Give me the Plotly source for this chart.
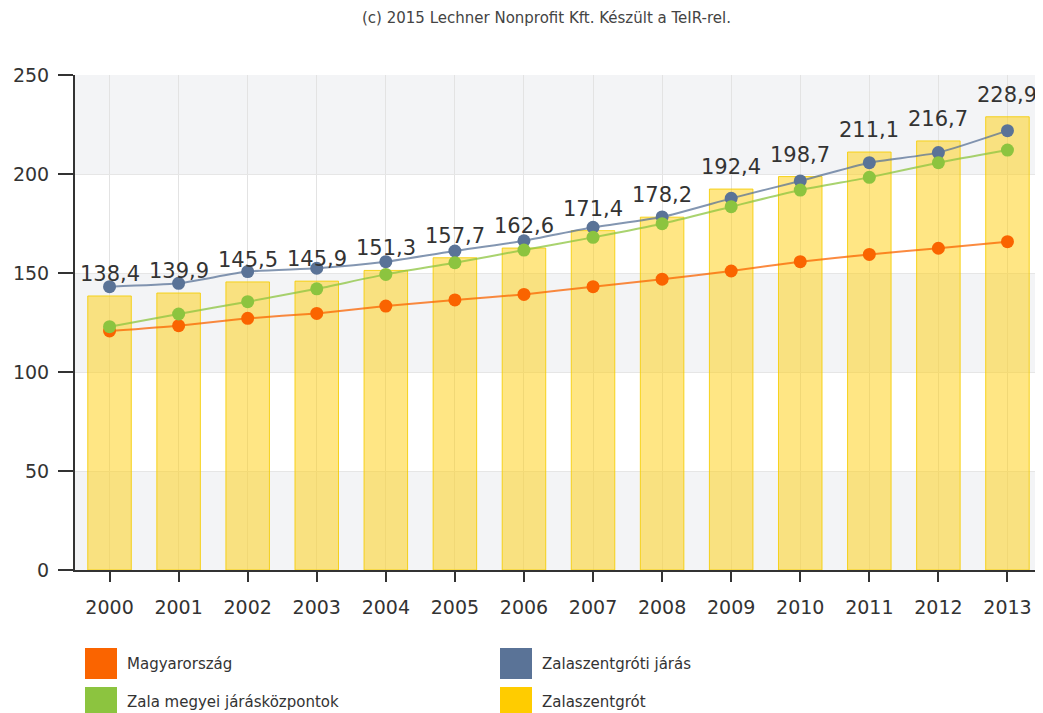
import plotly.graph_objects as go

# ---- data ----
years = list(range(2000, 2014))
zalaszentgrot = [138.4, 139.9, 145.5, 145.9, 151.3, 157.7, 162.6, 171.4, 178.2, 192.4, 198.7, 211.1, 216.7, 228.9]
zalaszentgroti_jaras = [143.1, 144.8, 150.7, 152.4, 155.7, 161.1, 166.3, 173.1, 178.3, 187.7, 196.5, 205.7, 210.8, 221.9]
zala_kozpontok = [122.9, 129.3, 135.5, 142.0, 149.3, 155.2, 161.6, 168.0, 174.9, 183.5, 191.9, 198.3, 205.7, 212.1]
magyarorszag = [120.7, 123.4, 127.1, 129.6, 133.3, 136.4, 139.2, 143.1, 146.9, 151.0, 155.7, 159.4, 162.5, 165.8]
y_ticks = [0, 50, 100, 150, 200, 250]
legend_names = ["Magyarország", "Zalaszentgróti járás", "Zala megyei járásközpontok", "Zalaszentgrót"]

# ---- styles ----
C_ORANGE = "#fa6400"
C_BLUE = "#5a7397"
C_GREEN = "#8cc43f"
C_YELLOW = "#ffcc00"
FONT = "DejaVu Sans"
TXT = "#333333"

OFF = 8  # page body margin
W, H = 1043 - OFF, 713 - OFF
# plot area in page pixels: x 75..1042, y 75..570
PX0, PX1, PY0, PY1 = 75, 1042, 75, 570
ML, MT = PX0 - OFF, PY0 - OFF
MR = W - (PX1 - OFF)
MB = H - (PY1 - OFF)
PW = PX1 - PX0
PH = PY1 - PY0


def px_x(px):
    return (px - PX0) / PW


def px_y(py):
    return (PY1 - py) / PH


fig = go.Figure()

fig.add_trace(go.Bar(
    x=years, y=zalaszentgrot, name=legend_names[3], width=0.63,
    marker=dict(color="rgba(255,206,10,0.5)", line=dict(color="rgba(245,205,0,0.85)", width=1)),
    showlegend=False, hoverinfo="x+y",
))

for vals, col, nm in [(magyarorszag, C_ORANGE, legend_names[0]),
                      (zalaszentgroti_jaras, C_BLUE, legend_names[1]),
                      (zala_kozpontok, C_GREEN, legend_names[2])]:
    r, g, b = int(col[1:3], 16), int(col[3:5], 16), int(col[5:7], 16)
    fig.add_trace(go.Scatter(
        x=years, y=vals, name=nm, mode="lines+markers",
        line=dict(color=f"rgba({r},{g},{b},0.75)", width=2, shape="spline", smoothing=0.5),
        marker=dict(color=col, size=13),
        showlegend=False,
    ))

annotations = []
for x, v in zip(years, zalaszentgrot):
    annotations.append(dict(
        x=x, y=v, xref="x", yref="y", text=f"{v:.1f}".replace(".", ","),
        showarrow=False, yshift=22, yanchor="middle", xanchor="center",
        font=dict(family=FONT, size=21, color=TXT),
    ))

# alternating background bands
shapes = []
for i in range(0, len(y_ticks) - 1, 2):
    shapes.append(dict(type="rect", xref="paper", yref="y", x0=0, x1=1,
                       y0=y_ticks[i], y1=y_ticks[i + 1],
                       fillcolor="#f3f4f6", line=dict(width=0), layer="below"))

# custom legend (page pixel positions)
legend_items = [
    (legend_names[0], C_ORANGE, 85, 648, 125, 664),
    (legend_names[1], C_BLUE, 500, 648, 540, 664),
    (legend_names[2], C_GREEN, 85, 687, 125, 702),
    (legend_names[3], C_YELLOW, 500, 687, 540, 702),
]
for nm, col, sx, sy, tx, ty in legend_items:
    shapes.append(dict(type="rect", xref="paper", yref="paper",
                       x0=px_x(sx), x1=px_x(sx + 32), y0=px_y(sy), y1=px_y(sy + 31),
                       fillcolor=col, line=dict(width=0)))
    annotations.append(dict(x=px_x(tx), y=px_y(ty), xref="paper", yref="paper",
                            text=nm, showarrow=False, xanchor="left", yanchor="middle",
                            font=dict(family=FONT, size=15, color=TXT)))

# title as annotation (page y center ~17 px)
annotations.append(dict(x=px_x(546), y=px_y(18), xref="paper", yref="paper",
                        text="(c) 2015 Lechner Nonprofit Kft. Készült a TeIR-rel.",
                        showarrow=False, xanchor="center", yanchor="middle",
                        font=dict(family=FONT, size=15, color="#444444")))

fig.update_layout(
    width=W, height=H,
    margin=dict(l=ML, r=MR, t=MT, b=MB, pad=0),
    paper_bgcolor="white", plot_bgcolor="white",
    barmode="overlay",
    showlegend=False,
    shapes=shapes,
    annotations=annotations,
    font=dict(family=FONT, color=TXT),
)

fig.update_xaxes(
    range=[1999.5, 2013.5], tickmode="array", tickvals=years, ticktext=[str(y) for y in years],
    showgrid=True, gridcolor="#e3e3e3", gridwidth=1,
    showline=True, linecolor="#333333", linewidth=2,
    ticks="outside", ticklen=10, tickcolor="#333333", tickwidth=2, ticklabelstandoff=9,
    tickfont=dict(family=FONT, size=19, color=TXT), zeroline=False, fixedrange=True,
)
fig.update_yaxes(
    range=[0, 250], tickmode="array", tickvals=y_ticks,
    showgrid=True, gridcolor="#e6e6e6", gridwidth=1,
    showline=True, linecolor="#333333", linewidth=2,
    ticks="outside", ticklen=15, tickcolor="#333333", tickwidth=2, ticklabelstandoff=5,
    tickfont=dict(family=FONT, size=19, color=TXT), zeroline=False, fixedrange=True,
)

fig.write_html("out.html")
